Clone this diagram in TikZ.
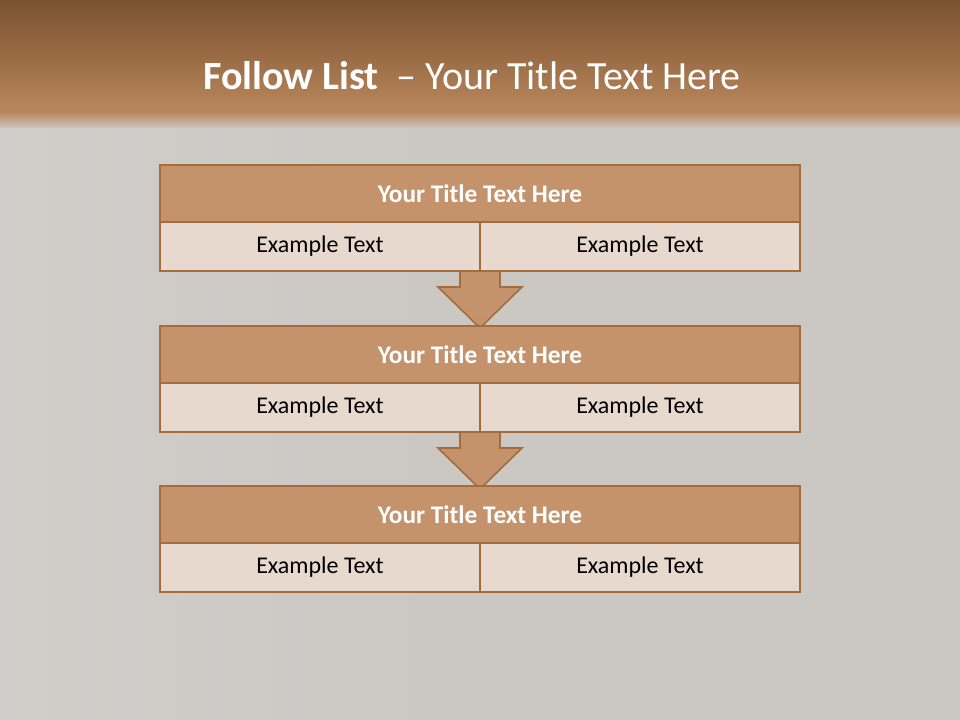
\documentclass[tikz,border=0pt]{standalone}
\usepackage{fontspec}
\setmainfont{Carlito}
\usetikzlibrary{positioning}
\definecolor{bg}{HTML}{CBC7C3}
\definecolor{bandtop}{HTML}{7A5130}
\definecolor{bandbot}{HTML}{B9875C}
\definecolor{headfill}{HTML}{C4936B}
\definecolor{rowfill}{HTML}{E8D9CF}
\definecolor{edge}{HTML}{A56D3D}
\tikzset{
  headbox/.style={draw=edge, line width=1.5pt, fill=headfill, minimum width=480pt, minimum height=42.75pt, inner sep=0pt, outer sep=0pt, text=white, font=\fontsize{19}{22}\selectfont\bfseries},
  cellbox/.style={draw=edge, line width=1.5pt, fill=rowfill, minimum width=240pt, minimum height=36.75pt, inner sep=0pt, outer sep=0pt, text=black, font=\fontsize{18}{21}\selectfont},
  downarrow/.style={draw=edge, line width=1.2pt, fill=headfill, line join=miter}
}
\begin{document}
\begin{tikzpicture}[x=0.75pt,y=-0.75pt]
\useasboundingbox (0,0) rectangle (960,720);
\fill[bg] (0,0) rectangle (960,720);
\shade[left color=white!20!bg, right color=bg, opacity=0.6] (0,120) rectangle (480,720);
\shade[top color=bandtop, bottom color=bandbot] (0,0) rectangle (960,112);
\shade[top color=bandbot, bottom color=bg] (0,112) rectangle (960,128);
\node[text=white, font=\fontsize{30}{34}\selectfont] (title) at (472,76) {\textbf{Follow List} \ – Your Title Text Here};

% arrows (behind boxes)
\draw[downarrow] (460,266) -- (500,266) -- (500,287) -- (522,287) -- (480,328) -- (438,287) -- (460,287) -- cycle;
\draw[downarrow] (460,427) -- (500,427) -- (500,448) -- (522,448) -- (480,489) -- (438,448) -- (460,448) -- cycle;

% box 1
\node[headbox] (h1) at (480,193.5) {Your Title Text Here};
\node[cellbox, anchor=north west] (a1) at (h1.south west) {Example Text};
\node[cellbox, anchor=north east] (b1) at (h1.south east) {Example Text};
% box 2
\node[headbox] (h2) at (480,354.5) {Your Title Text Here};
\node[cellbox, anchor=north west] (a2) at (h2.south west) {Example Text};
\node[cellbox, anchor=north east] (b2) at (h2.south east) {Example Text};
% box 3
\node[headbox] (h3) at (480,514.5) {Your Title Text Here};
\node[cellbox, anchor=north west] (a3) at (h3.south west) {Example Text};
\node[cellbox, anchor=north east] (b3) at (h3.south east) {Example Text};
\end{tikzpicture}
\end{document}
